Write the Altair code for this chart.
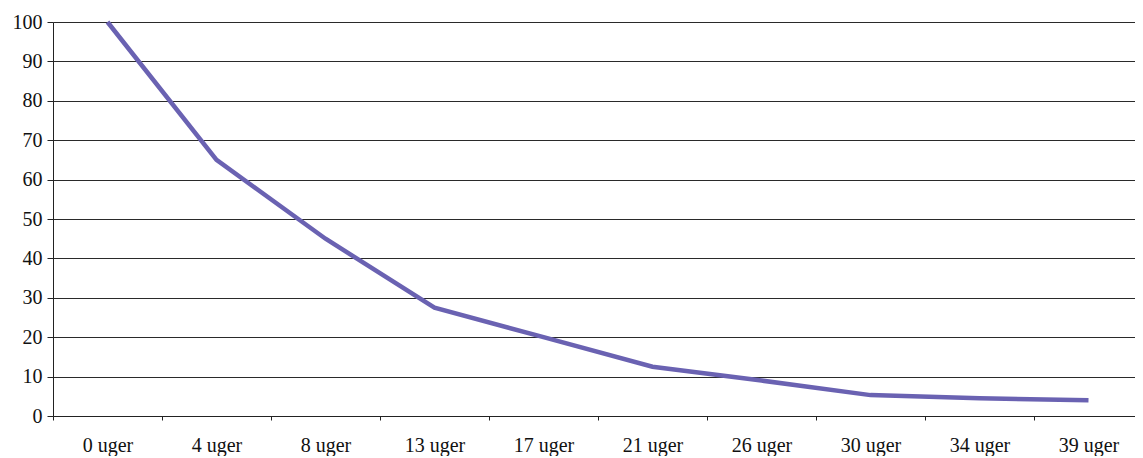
import altair as alt
import pandas as pd

categories = ["0 uger", "4 uger", "8 uger", "13 uger", "17 uger",
              "21 uger", "26 uger", "30 uger", "34 uger", "39 uger"]
values = [100, 65, 45, 27.5, 20, 12.5, 9, 5.3, 4.5, 4]

df = pd.DataFrame({"uge": categories, "pct": values})

FONT = "Liberation Serif"

chart = alt.Chart(df).mark_line(color="#6a62b2", strokeWidth=4.5).encode(
    x=alt.X("uge:N", sort=categories, title=None,
            bandPosition=0.5,
            scale=alt.Scale(type="band", paddingInner=0, paddingOuter=0,
                            range=[0, 1090]),
            axis=alt.Axis(labelAngle=0, tickBand="extent", tickSize=4,
                          labelPadding=15, labelFontSize=20, labelFont=FONT,
                          labelColor="#111", domainColor="#222", tickColor="#222",
                          grid=False)),
    y=alt.Y("pct:Q", title=None,
            scale=alt.Scale(domain=[0, 100], nice=False),
            axis=alt.Axis(values=list(range(0, 101, 10)), tickSize=6,
                          labelPadding=5, labelFontSize=20, labelFont=FONT,
                          labelColor="#111", domainColor="#222", tickColor="#222",
                          gridColor="#2a2a2a", gridWidth=1, gridOpacity=1)),
).properties(
    width=1082, height=394,
    autosize=alt.AutoSizeParams(type="none"),
    padding={"left": 45, "top": 14, "right": 0, "bottom": 40},
).configure_view(stroke=None).configure(background="white")

chart.save("out.html", embed_options={"renderer": "svg", "actions": False})
